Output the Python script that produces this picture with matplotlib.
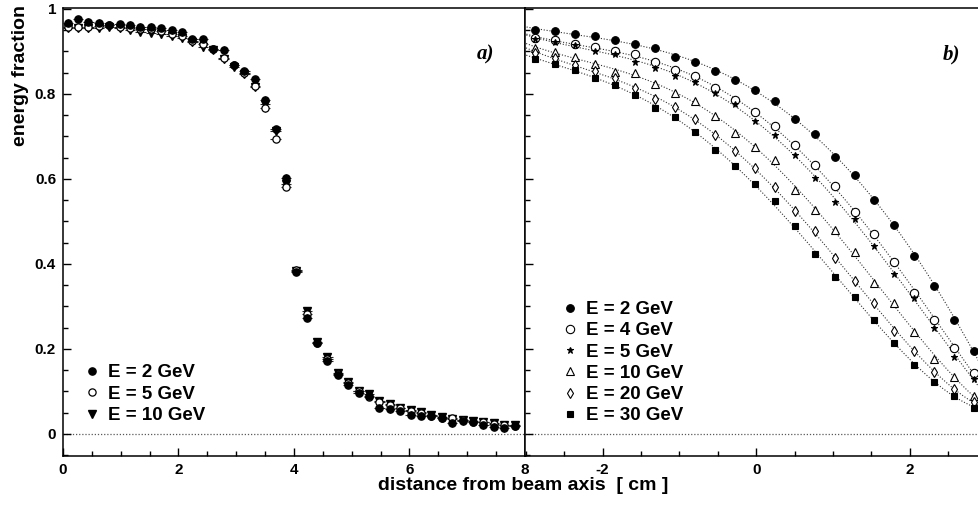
import numpy as np
import matplotlib
matplotlib.use("Agg")
import matplotlib.pyplot as plt
from matplotlib.ticker import MultipleLocator, FuncFormatter

plt.rcParams['font.family'] = ['Liberation Sans', 'DejaVu Sans']
plt.rcParams['font.weight'] = 'bold'
plt.rcParams['axes.unicode_minus'] = False

# ---- panel a): energy fraction vs distance from beam axis ----
xa = [0.08, 0.26, 0.44, 0.62, 0.80, 0.98, 1.16, 1.34, 1.52, 1.70, 1.88,
      2.06, 2.24, 2.42, 2.60, 2.78, 2.96, 3.14, 3.32, 3.50, 3.68, 3.86,
      4.04, 4.22, 4.40, 4.58, 4.76, 4.94, 5.12, 5.30, 5.48, 5.66, 5.84,
      6.02, 6.20, 6.38, 6.56, 6.74, 6.92, 7.10, 7.28, 7.46, 7.64, 7.82]
a_2gev = [0.967, 0.976, 0.970, 0.967, 0.961, 0.964, 0.963, 0.958, 0.958, 0.955, 0.950,
          0.945, 0.929, 0.929, 0.905, 0.904, 0.868, 0.853, 0.835, 0.786, 0.717, 0.603,
          0.381, 0.273, 0.215, 0.172, 0.139, 0.115, 0.097, 0.090, 0.061, 0.058, 0.054,
          0.045, 0.043, 0.041, 0.037, 0.025, 0.030, 0.028, 0.020, 0.017, 0.013, 0.018]
a_5gev = [0.958, 0.957, 0.958, 0.960, 0.961, 0.958, 0.956, 0.953, 0.952, 0.949, 0.942,
          0.937, 0.925, 0.917, 0.905, 0.884, 0.867, 0.850, 0.819, 0.766, 0.694, 0.581,
          0.386, 0.282, 0.215, 0.176, 0.142, 0.120, 0.100, 0.087, 0.076, 0.068, 0.060,
          0.054, 0.050, 0.043, 0.038, 0.037, 0.032, 0.029, 0.027, 0.024, 0.021, 0.019]
a_10gev = [0.955, 0.955, 0.954, 0.955, 0.958, 0.954, 0.951, 0.946, 0.944, 0.940, 0.936,
           0.931, 0.921, 0.910, 0.904, 0.881, 0.864, 0.847, 0.816, 0.776, 0.713, 0.588,
           0.384, 0.290, 0.216, 0.180, 0.144, 0.123, 0.101, 0.093, 0.078, 0.070, 0.062,
           0.056, 0.051, 0.044, 0.040, 0.036, 0.033, 0.030, 0.028, 0.025, 0.022, 0.020]

# ---- panel b): shifted beam position ----
xb = [-2.88, -2.62, -2.36, -2.10, -1.84, -1.58, -1.32, -1.06, -0.80, -0.54, -0.28,
      -0.02, 0.24, 0.50, 0.76, 1.02, 1.28, 1.54, 1.80, 2.06, 2.32, 2.58, 2.84]
b_2gev = [0.951, 0.948, 0.940, 0.935, 0.926, 0.918, 0.907, 0.886, 0.875, 0.853, 0.832,
          0.808, 0.784, 0.740, 0.706, 0.652, 0.609, 0.551, 0.492, 0.418, 0.348, 0.269, 0.195]
b_4gev = [0.932, 0.927, 0.917, 0.911, 0.900, 0.893, 0.874, 0.857, 0.842, 0.813, 0.785,
          0.758, 0.725, 0.679, 0.633, 0.583, 0.522, 0.470, 0.405, 0.332, 0.269, 0.202, 0.144]
b_5gev = [0.929, 0.922, 0.916, 0.902, 0.893, 0.876, 0.862, 0.841, 0.827, 0.802, 0.775,
          0.737, 0.704, 0.656, 0.602, 0.546, 0.505, 0.442, 0.376, 0.319, 0.249, 0.181, 0.129]
b_10gev = [0.909, 0.898, 0.886, 0.871, 0.852, 0.848, 0.824, 0.803, 0.784, 0.748, 0.708,
           0.675, 0.644, 0.574, 0.527, 0.480, 0.427, 0.355, 0.309, 0.239, 0.177, 0.134, 0.090]
b_20gev = [0.896, 0.885, 0.868, 0.853, 0.838, 0.814, 0.788, 0.769, 0.740, 0.703, 0.665,
           0.626, 0.581, 0.525, 0.478, 0.414, 0.360, 0.307, 0.243, 0.195, 0.145, 0.105, 0.074]
b_30gev = [0.882, 0.871, 0.856, 0.838, 0.822, 0.798, 0.766, 0.746, 0.711, 0.668, 0.631,
           0.588, 0.547, 0.489, 0.424, 0.369, 0.321, 0.267, 0.213, 0.163, 0.123, 0.090, 0.062]

fig = plt.figure(figsize=(9.79, 5.07), dpi=100)
W, H = 979.0, 507.0
bottom = 1 - 456 / H
height = (456 - 8) / H
ax1 = fig.add_axes([63 / W, bottom, (525 - 63) / W, height])
ax2 = fig.add_axes([525 / W, bottom, (982 - 525) / W, height])

ylo, yhi = -0.052, 1.002
yfmt = FuncFormatter(lambda v, p: '%g' % round(v, 2))

for ax in (ax1, ax2):
    ax.set_ylim(ylo, yhi)
    ax.yaxis.set_major_locator(MultipleLocator(0.2))
    ax.yaxis.set_minor_locator(MultipleLocator(0.05))
    ax.xaxis.set_minor_locator(MultipleLocator(0.5))
    ax.xaxis.set_major_locator(MultipleLocator(2))
    ax.tick_params(which='both', direction='in', top=False, right=False,
                   width=1.0, labelsize=11)
    ax.tick_params(which='major', length=6)
    ax.tick_params(which='minor', length=3.5)
    ax.tick_params(axis='y', pad=5)
    ax.tick_params(axis='x', pad=5)
    for s in ax.spines.values():
        s.set_linewidth(1.1)
    ax.axhline(0, color='0.35', lw=0.9, ls=(0, (1, 1.5)), zorder=1)

ax1.set_xlim(0, 8)
ax1.yaxis.set_major_formatter(yfmt)
ax2.set_xlim(-3.01, 2.94)
ax2.set_yticklabels([])
ax2.spines['right'].set_visible(False)

ebkw = dict(ls='none', ecolor='0.15', elinewidth=0.8, capsize=0)
ax1.errorbar(xa, a_10gev, xerr=0.09, yerr=0.008, marker='v', ms=5.2,
             mfc='black', mec='black', label='E = 10 GeV', zorder=3, **ebkw)
ax1.errorbar(xa, a_5gev, xerr=0.09, yerr=0.008, marker='o', ms=5.2,
             mfc='white', mec='black', mew=0.9, label='E = 5 GeV', zorder=4, **ebkw)
ax1.errorbar(xa, a_2gev, xerr=0.09, yerr=0.008, marker='o', ms=5.2,
             mfc='black', mec='black', label='E = 2 GeV', zorder=5, **ebkw)
h, l = ax1.get_legend_handles_labels()
h = [hh[0] for hh in h[::-1]]
ax1.legend(h, l[::-1], loc='upper left', bbox_to_anchor=(0.0465, 0.205),
           frameon=False, fontsize=13.5, handlelength=0.8, handletextpad=0.45,
           labelspacing=0.23, borderpad=0, borderaxespad=0)
ax1.text(0.933, 0.897, 'a)', transform=ax1.transAxes, ha='right', va='center',
         family='Liberation Serif', style='italic', weight='bold', fontsize=15)

series_b = [(b_2gev, 'o', 'black', 'E = 2 GeV', 5.5),
            (b_4gev, 'o', 'white', 'E = 4 GeV', 6.0),
            (b_5gev, '*', 'black', 'E = 5 GeV', 5.0),
            (b_10gev, '^', 'white', 'E = 10 GeV', 6.0),
            (b_20gev, 'd', 'white', 'E = 20 GeV', 5.5),
            (b_30gev, 's', 'black', 'E = 30 GeV', 5.0)]
xfine = np.linspace(-3.1, 3.0, 200)
for ys, mk, fc, lab, ms in series_b:
    coef = np.polyfit(xb, ys, 4)
    ax2.plot(xfine, np.polyval(coef, xfine), color='0.2', lw=0.8,
             ls=(0, (1, 1.6)), zorder=2)
    ax2.plot(xb, ys, ls='none', marker=mk, ms=ms, mfc=fc, mec='black',
             mew=0.8, label=lab, zorder=3)
ax2.legend(loc='upper left', bbox_to_anchor=(0.082, 0.346), frameon=False,
           fontsize=13.5, handlelength=0.8, handletextpad=0.45,
           labelspacing=0.22, borderpad=0, borderaxespad=0)
ax2.text(0.952, 0.897, 'b)', transform=ax2.transAxes, ha='right', va='center',
         family='Liberation Serif', style='italic', weight='bold', fontsize=15)

fig.text(21 / W, 1 - 5 / H, 'energy fraction', rotation=90, ha='center',
         va='top', fontsize=14)
fig.text(523 / W, 1 - 486 / H, 'distance from beam axis  [ cm ]',
         ha='center', va='center', fontsize=14)

fig.savefig('out.png', dpi=100)
